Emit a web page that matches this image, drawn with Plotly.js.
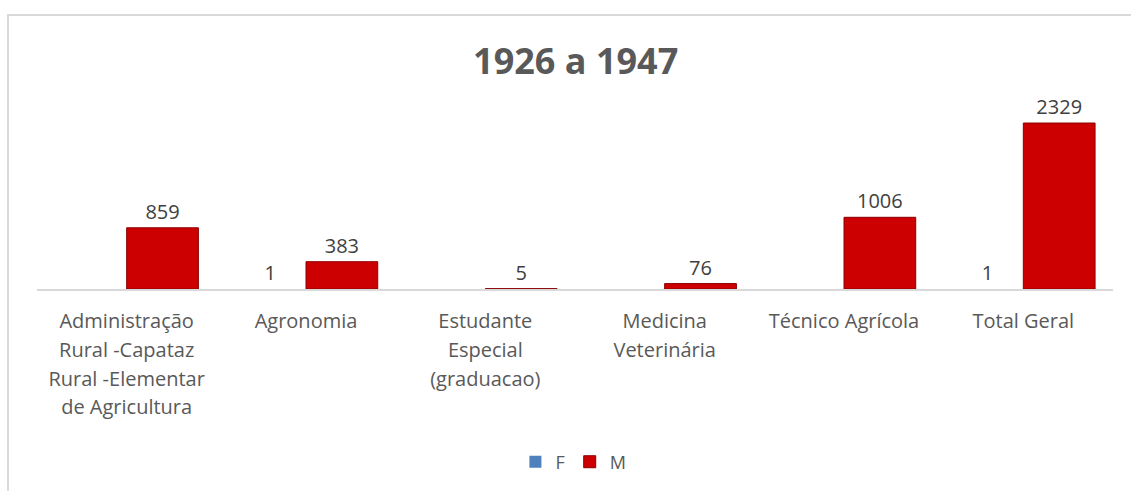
<!DOCTYPE html>
<html>
<head>
<meta charset="utf-8">
<script src="https://cdn.plot.ly/plotly-3.0.1.min.js"></script>
<style>
  html, body { margin: 0; padding: 0; background: #ffffff; }
  #wrap { position: relative; width: 1131px; height: 491px; overflow: hidden; }
  #chart { width: 1131px; height: 491px; }
  #frame { position: absolute; left: 7px; top: 14px; right: -4px; bottom: -4px;
           border-left: 2px solid #d9d9d9; border-top: 2px solid #d9d9d9; pointer-events: none; }
</style>
</head>
<body>
<div id="wrap">
  <div id="chart"></div>
  <div id="frame"></div>
</div>
<script>
const categories = [
  "Administração<br>Rural -Capataz<br>Rural -Elementar<br>de Agricultura",
  "Agronomia",
  "Estudante<br>Especial<br>(graduacao)",
  "Medicina<br>Veterinária",
  "Técnico Agrícola",
  "Total Geral"
];
const valuesF = [null, 1, null, null, null, 1];
const valuesM = [859, 383, 5, 76, 1006, 2329];
const seriesNames = ["F", "M"];

const FONT = "Open Sans, Noto Sans, sans-serif";
const labelFont = { family: FONT, size: 20, color: "#404040" };

// tick text: glyphs at 20px, line spacing from 22px tick font
const tickText = categories.map(c =>
  c.split("<br>").map(s => '<span style="font-size:20px">' + s + '</span>').join("<br>")
);

const traceF = {
  type: "bar",
  name: seriesNames[0],
  x: categories,
  y: valuesF,
  marker: { color: "#4F81BD", line: { color: "#385D8A", width: 0 } },
  text: valuesF.map(v => v === null ? "" : String(v)),
  textposition: "outside",
  textfont: labelFont,
  cliponaxis: false,
  hoverinfo: "x+y"
};
const traceM = {
  type: "bar",
  name: seriesNames[1],
  x: categories,
  y: valuesM,
  marker: { color: "#CC0000", line: { color: "#8B0000", width: 1 } },
  text: valuesM.map(v => String(v)),
  textposition: "outside",
  textfont: labelFont,
  cliponaxis: false,
  hoverinfo: "x+y"
};

const layout = {
  width: 1131,
  height: 491,
  paper_bgcolor: "#ffffff",
  plot_bgcolor: "#ffffff",
  margin: { l: 37, r: 18, t: 100, b: 202, pad: 0 },
  title: {
    text: "<b>1926 a 1947</b>",
    font: { family: FONT, size: 36, color: "#595959" },
    x: 0.509, xanchor: "center", xref: "container",
    y: 0.874, yanchor: "middle", yref: "container"
  },
  barmode: "group",
  bargap: 0.2,
  bargroupgap: 0,
  showlegend: true,
  legend: {
    orientation: "h",
    x: 0.507, xanchor: "center", xref: "container",
    y: 0.059, yanchor: "middle", yref: "container",
    font: { family: FONT, size: 18, color: "#595959" },
    itemwidth: 30,
    traceorder: "normal"
  },
  xaxis: {
    type: "category",
    tickmode: "array",
    tickvals: categories,
    ticktext: tickText,
    showline: true,
    linecolor: "#d9d9d9",
    linewidth: 2,
    ticks: "",
    showgrid: false,
    zeroline: false,
    tickfont: { family: FONT, size: 22, color: "#595959" },
    ticklabelstandoff: 11,
    automargin: false
  },
  yaxis: {
    range: [0, 2652],
    visible: false,
    showgrid: false,
    zeroline: false,
    fixedrange: true
  }
};

Plotly.newPlot("chart", [traceF, traceM], layout, { displayModeBar: false, staticPlot: true });
</script>
</body>
</html>
